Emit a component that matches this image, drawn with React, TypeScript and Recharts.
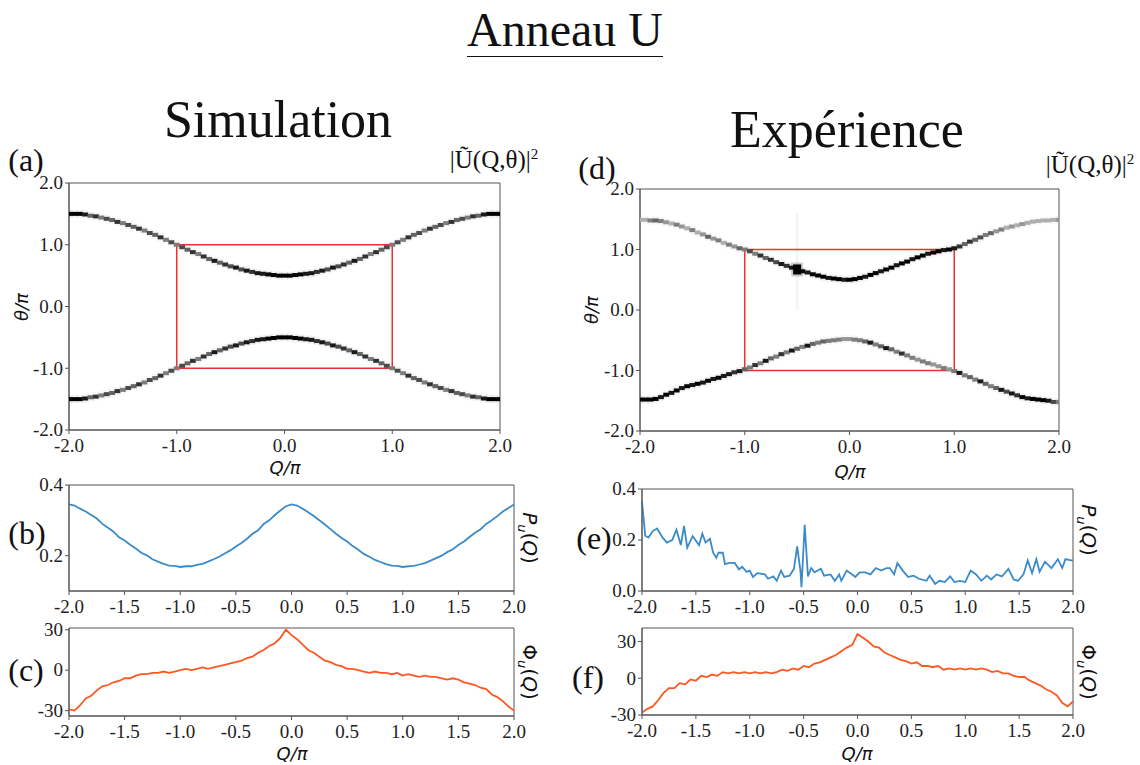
import React from 'react';
import { ScatterChart, Scatter, LineChart, Line, ComposedChart, XAxis, YAxis, ReferenceArea } from 'recharts';

// Q/pi grid shared by the simulated curves and the dispersion maps
const qGrid = [
  -2.0, -1.95, -1.9, -1.85, -1.8, -1.75, -1.7, -1.65, -1.6, -1.55, -1.5, -1.45, -1.4, -1.35, -1.3, -1.25, -1.2, -1.15, -1.1, -1.05,
  -1.0, -0.95, -0.9, -0.85, -0.8, -0.75, -0.7, -0.65, -0.6, -0.55, -0.5, -0.45, -0.4, -0.35, -0.3, -0.25, -0.2, -0.15, -0.1, -0.05,
  0.0, 0.05, 0.1, 0.15, 0.2, 0.25, 0.3, 0.35, 0.4, 0.45, 0.5, 0.55, 0.6, 0.65, 0.7, 0.75, 0.8, 0.85, 0.9, 0.95,
  1.0, 1.05, 1.1, 1.15, 1.2, 1.25, 1.3, 1.35, 1.4, 1.45, 1.5, 1.55, 1.6, 1.65, 1.7, 1.75, 1.8, 1.85, 1.9, 1.95, 2.0,
];

// (a) simulation: theta/pi of the two bands
const simUpper = [
  1.5, 1.5, 1.5, 1.49, 1.47, 1.46, 1.44, 1.42, 1.4, 1.37, 1.35, 1.32, 1.29, 1.26, 1.23, 1.19, 1.16, 1.12, 1.08, 1.04,
  1.0, 0.96, 0.92, 0.88, 0.85, 0.81, 0.77, 0.74, 0.71, 0.68, 0.65, 0.63, 0.6, 0.58, 0.56, 0.54, 0.53, 0.52, 0.51, 0.5,
  0.5, 0.5, 0.51, 0.52, 0.53, 0.54, 0.56, 0.58, 0.6, 0.63, 0.65, 0.68, 0.71, 0.74, 0.77, 0.81, 0.85, 0.88, 0.92, 0.96,
  1.0, 1.04, 1.08, 1.12, 1.16, 1.19, 1.23, 1.26, 1.29, 1.32, 1.35, 1.37, 1.4, 1.42, 1.44, 1.46, 1.47, 1.49, 1.5, 1.5, 1.5,
];
const simLower = [
  -1.5, -1.5, -1.5, -1.49, -1.47, -1.46, -1.44, -1.42, -1.4, -1.37, -1.35, -1.32, -1.29, -1.26, -1.23, -1.19, -1.16, -1.12, -1.08, -1.04,
  -1.0, -0.96, -0.92, -0.88, -0.85, -0.81, -0.77, -0.74, -0.71, -0.68, -0.65, -0.63, -0.6, -0.58, -0.56, -0.54, -0.53, -0.52, -0.51, -0.5,
  -0.5, -0.5, -0.51, -0.52, -0.53, -0.54, -0.56, -0.58, -0.6, -0.63, -0.65, -0.68, -0.71, -0.74, -0.77, -0.81, -0.85, -0.88, -0.92, -0.96,
  -1.0, -1.04, -1.08, -1.12, -1.16, -1.19, -1.23, -1.26, -1.29, -1.32, -1.35, -1.37, -1.4, -1.42, -1.44, -1.46, -1.47, -1.49, -1.5, -1.5, -1.5,
];
// |U|^2 read along the simulated bands
const simLevel = [
  1, 1, 1, 0.9,
  0.6, 0.8, 0.5, 0.7, 0.6, 0.8, 0.5, 0.7, 0.6, 0.8, 0.5, 0.7, 0.6, 0.8, 0.5, 0.7,
  0.5, 0.7, 0.6, 0.8, 0.5, 0.8, 0.6, 0.9, 0.6, 0.8, 0.7, 0.9, 0.7, 0.9, 0.8, 0.9,
  0.9, 1, 1, 1, 1, 1, 1, 1, 0.9,
  0.9, 0.8, 0.9, 0.7, 0.9, 0.7, 0.8, 0.6, 0.9, 0.6, 0.8, 0.5, 0.8, 0.6, 0.7, 0.5,
  0.7, 0.5, 0.8, 0.6, 0.7, 0.5, 0.8, 0.6, 0.7, 0.5, 0.8, 0.6, 0.7, 0.5, 0.8, 0.6,
  0.9, 1, 1, 1,
];

// (d) experiment
const expUpper = [
  1.49, 1.49, 1.48, 1.48, 1.47, 1.45, 1.43, 1.41, 1.38, 1.35, 1.32, 1.28, 1.25, 1.21, 1.18, 1.15, 1.11, 1.08, 1.05, 1.02,
  1.0, 0.97, 0.93, 0.9, 0.86, 0.83, 0.79, 0.76, 0.73, 0.7, 0.67, 0.64, 0.62, 0.59, 0.57, 0.55, 0.53, 0.52, 0.51, 0.5,
  0.5, 0.51, 0.53, 0.55, 0.58, 0.61, 0.64, 0.67, 0.7, 0.74, 0.77, 0.8, 0.84, 0.87, 0.9, 0.93, 0.95, 0.97, 0.99, 1.0,
  1.02, 1.05, 1.09, 1.13, 1.16, 1.2, 1.24, 1.27, 1.3, 1.33, 1.36, 1.38, 1.4, 1.42, 1.44, 1.46, 1.47, 1.48, 1.48, 1.49, 1.49,
];
const expUpperLevel = [
  0.3, 0.3, 0.5, 0.6, 0.5, 0.4, 0.3, 0.5, 0.4, 0.3, 0.5, 0.3, 0.4, 0.6, 0.4, 0.5, 0.3, 0.5, 0.4, 0.6,
  0.5, 0.7, 0.5, 0.8, 0.6, 0.8, 0.7, 0.9, 0.8, 0.9,
  1,
  1, 0.9, 1, 1, 1, 0.9, 1, 1, 0.9, 1, 1, 1, 0.9, 1,
  1, 0.9, 1, 1, 0.9, 1, 1, 0.9, 1, 1, 0.9, 1, 1, 0.9, 1, 0.9,
  0.8, 0.6, 0.8, 0.6, 0.7, 0.5, 0.6, 0.4, 0.5, 0.3, 0.4, 0.3, 0.4, 0.3, 0.3, 0.3, 0.3, 0.3, 0.3, 0.4,
];
const expLower = [
  -1.48, -1.48, -1.48, -1.47, -1.44, -1.4, -1.37, -1.33, -1.29, -1.26, -1.24, -1.22, -1.2, -1.17, -1.14, -1.12, -1.09, -1.06, -1.03, -1.01,
  -0.98, -0.95, -0.91, -0.88, -0.84, -0.8, -0.77, -0.73, -0.7, -0.67, -0.64, -0.61, -0.59, -0.56, -0.54, -0.52, -0.51, -0.5, -0.49, -0.48,
  -0.48, -0.49, -0.5, -0.52, -0.54, -0.57, -0.6, -0.63, -0.65, -0.69, -0.72, -0.75, -0.79, -0.82, -0.85, -0.88, -0.9, -0.93, -0.96, -0.98,
  -1.01, -1.04, -1.08, -1.11, -1.15, -1.18, -1.22, -1.26, -1.29, -1.32, -1.35, -1.38, -1.41, -1.44, -1.46, -1.47, -1.48, -1.49, -1.5, -1.52, -1.52,
];
const expLowerLevel = [
  1, 1, 1, 1, 0.9, 1, 0.9, 1, 0.9, 1, 0.9, 1, 0.9, 1, 0.9, 1, 0.9, 0.9, 0.8, 0.9,
  0.6, 0.5, 0.8, 0.5, 0.9, 0.6, 0.5, 0.8, 0.5, 0.9, 0.6, 0.5, 0.9, 0.6, 0.5, 0.6, 0.5, 0.5, 0.5, 0.4,
  0.4, 0.5, 0.5, 0.6, 0.9, 0.5, 0.6, 0.9, 0.6, 0.5, 0.8, 0.5, 0.5, 0.4, 0.5, 0.5, 0.4, 0.4, 0.5, 0.4,
  0.5, 0.9, 0.5, 0.6, 0.5, 0.9, 0.6, 0.5, 0.6, 0.9, 0.7, 0.9, 0.8, 1, 0.9, 1, 1, 1, 0.9, 0.7, 0.5,
];
// bright spot of the experiment and its streak
const spotQ = [-0.5];
const spotTheta = [0.67];

// (b) simulated P_u(Q)
const simP = [
  0.345, 0.342, 0.333, 0.325, 0.315, 0.305, 0.29, 0.279, 0.268, 0.252, 0.243, 0.231, 0.22, 0.208, 0.201, 0.19, 0.183, 0.177, 0.172, 0.171,
  0.168, 0.17, 0.17, 0.174, 0.177, 0.183, 0.19, 0.197, 0.206, 0.215, 0.226, 0.236, 0.248, 0.262, 0.272, 0.29, 0.3, 0.315, 0.328, 0.34,
  0.345, 0.342, 0.333, 0.323, 0.312, 0.3, 0.288, 0.275, 0.262, 0.25, 0.24, 0.227, 0.217, 0.205, 0.197, 0.188, 0.182, 0.176, 0.172, 0.171,
  0.168, 0.17, 0.171, 0.175, 0.179, 0.186, 0.193, 0.2, 0.21, 0.218, 0.23, 0.24, 0.253, 0.265, 0.275, 0.29, 0.3, 0.312, 0.325, 0.335, 0.345,
];

// (c) simulated Phi_u(Q)
const simPhi = [
  -29, -30, -26, -21, -19, -15, -12, -11, -9, -8, -6, -6, -4, -3, -3, -2, -2, -1, -2, -1,
  0, 1, 0, 1, 2, 1, 2, 3, 4, 5, 6, 7, 9, 10, 13, 15, 18, 20, 24, 30,
  26, 23, 19, 15, 13, 10, 7, 6, 4, 3, 1, 1, 0, -1, -2, -1, -2, -2, -3, -2,
  -4, -3, -4, -5, -4, -5, -5, -6, -7, -6, -7, -9, -10, -11, -13, -14, -18, -20, -23, -27, -30,
];

// (e) measured P_u(Q)
const qExpP = [
  -2.0, -1.97, -1.94, -1.9, -1.86, -1.81, -1.77, -1.72, -1.68, -1.64, -1.61, -1.58, -1.53, -1.47, -1.44, -1.41, -1.37, -1.34, -1.31, -1.29,
  -1.25, -1.23, -1.19, -1.14, -1.1, -1.07, -1.03, -1.0, -0.97, -0.93, -0.86, -0.83, -0.78, -0.75, -0.71, -0.68, -0.63, -0.59, -0.56, -0.53,
  -0.52, -0.49, -0.46, -0.43, -0.4, -0.34, -0.31, -0.25, -0.21, -0.17, -0.15, -0.1, -0.05, -0.02, 0.02, 0.07, 0.12, 0.17, 0.22, 0.27,
  0.3, 0.34, 0.37, 0.42, 0.47, 0.52, 0.57, 0.64, 0.67, 0.72, 0.76, 0.81, 0.86, 0.9, 0.95, 1.0, 1.05, 1.1, 1.15, 1.2,
  1.24, 1.29, 1.34, 1.4, 1.45, 1.49, 1.54, 1.58, 1.62, 1.66, 1.69, 1.74, 1.8, 1.86, 1.9, 1.93, 1.98, 2.0,
];
const expP = [
  0.35, 0.217, 0.21, 0.235, 0.245, 0.21, 0.19, 0.2, 0.24, 0.18, 0.255, 0.17, 0.215, 0.18, 0.225, 0.19, 0.205, 0.15, 0.13, 0.15,
  0.15, 0.105, 0.11, 0.11, 0.085, 0.095, 0.075, 0.08, 0.055, 0.07, 0.065, 0.048, 0.057, 0.04, 0.08, 0.055, 0.06, 0.087, 0.175, 0.08,
  0.015, 0.26, 0.057, 0.09, 0.073, 0.087, 0.06, 0.065, 0.04, 0.065, 0.04, 0.08, 0.065, 0.055, 0.073, 0.073, 0.065, 0.09, 0.08, 0.09,
  0.09, 0.065, 0.11, 0.08, 0.055, 0.06, 0.048, 0.04, 0.06, 0.028, 0.04, 0.035, 0.057, 0.035, 0.04, 0.035, 0.08, 0.065, 0.04, 0.06,
  0.045, 0.065, 0.057, 0.087, 0.045, 0.04, 0.065, 0.12, 0.07, 0.125, 0.075, 0.115, 0.09, 0.125, 0.09, 0.125, 0.12, 0.12,
];

// (f) measured Phi_u(Q)
const expPhi = [
  -28, -25, -23, -18, -12, -8, -8, -4, -5, -1, -2, 2, 1, 3, 2, 5, 4, 5, 4, 5,
  4, 5, 4, 5, 4, 5, 7, 6, 8, 7, 10, 9, 12, 13, 15, 17, 19, 22, 25, 27,
  36, 33, 30, 26, 25, 21, 19, 17, 15, 14, 12, 13, 10, 10, 9, 10, 7, 8, 7, 8,
  7, 8, 7, 8, 7, 5, 6, 4, 4, 2, 1, 1, -2, -4, -6, -9, -11, -14, -20, -23, -19,
];

const qTicksMap = [-2, -1, 0, 1, 2];
const thetaTicks = [-2, -1, 0, 1, 2];
const qTicksLine = [-2, -1.5, -1, -0.5, 0, 0.5, 1, 1.5, 2];
const cbTicks = [0.2, 0.4, 0.6, 0.8, 1.0];

const SERIF = '"Liberation Serif", "Times New Roman", serif';
const SANS = '"DejaVu Sans", sans-serif';
const AXIS = '#555';
const PAD = 16; // room above each plot so top tick labels are not clipped
const fmt1 = (v: number) => v.toFixed(1);
const fmt0 = (v: number) => String(v);

// serif tick labels like the original figure
const tickOf = (side: 'bottom' | 'left' | 'right', fmt: (v: number) => string, size = 19) => (p: any) => {
  const dy = side === 'bottom' ? '0.85em' : '0.33em';
  const anchor = side === 'bottom' ? 'middle' : side === 'left' ? 'end' : 'start';
  return (
    <text x={p.x} y={p.y} dy={dy} textAnchor={anchor} fontFamily={SERIF} fontSize={size} fill="#222">
      {fmt(p.payload.value)}
    </text>
  );
};

const toPoints = (theta: number[], level: number[]) =>
  qGrid.map((q, i) => ({ q, t: theta[i], v: level[i] }));

const grey = (v: number) => {
  const g = Math.round(250 * (1 - v));
  return `rgb(${g},${g},${g})`;
};

// one cell of the |U|^2 map
const Pixel = (props: any) => {
  const { cx, cy, payload } = props;
  const c = grey(payload.v);
  return (
    <g>
      <rect x={cx - 3.5} y={cy - 4} width={7} height={8} fill={c} opacity={0.05} />
      <rect x={cx - 2.9} y={cy - 2} width={5.8} height={4} fill={c} />
    </g>
  );
};

const Spot = (props: any) => {
  const { cx, cy } = props;
  return (
    <g>
      <rect x={cx - 6} y={cy - 7} width={12} height={14} fill="#000" opacity={0.2} />
      <rect x={cx - 4} y={cy - 5} width={8} height={10} fill="#000" />
    </g>
  );
};

interface MapProps {
  left: number;
  top: number;
  width: number;
  height: number;
  bands: { q: number; t: number; v: number }[][];
  spots?: { q: number; t: number }[];
}

// top/height are those of the plot box's chart before the padding is added
const DispersionMap: React.FC<MapProps> = ({ left, top, width, height, bands, spots }) => (
  <div style={{ position: 'absolute', left, top: top - PAD }}>
    <ScatterChart width={width} height={height + PAD} margin={{ top: PAD, right: 20, bottom: 0, left: 0 }}>
      <XAxis
        type="number"
        dataKey="q"
        domain={[-2, 2]}
        ticks={qTicksMap}
        tick={tickOf('bottom', fmt1)}
        height={40}
        stroke={AXIS}
        tickSize={4}
        tickMargin={2}
        allowDataOverflow
      />
      <YAxis
        type="number"
        dataKey="t"
        domain={[-2, 2]}
        ticks={thetaTicks}
        tick={tickOf('left', fmt1)}
        width={69}
        stroke={AXIS}
        tickSize={4}
        tickMargin={2}
        allowDataOverflow
      />
      {spots && spots.length > 0 && (
        <ReferenceArea x1={spots[0].q - 0.015} x2={spots[0].q + 0.015} y1={0} y2={1.6} fill="#000" fillOpacity={0.04} stroke="none" />
      )}
      {bands.map((b, i) => (
        <Scatter key={i} data={b} shape={Pixel} isAnimationActive={false} />
      ))}
      {spots && <Scatter data={spots} shape={Spot} isAnimationActive={false} />}
      <ReferenceArea x1={-1} x2={1} y1={-1} y2={1} fill="none" stroke="#f03030" strokeWidth={1.5} />
      <ReferenceArea x1={-2} x2={2} y1={-2} y2={2} fill="none" stroke={AXIS} strokeWidth={1} />
    </ScatterChart>
  </div>
);

const ColorBar: React.FC<{ left: number; top: number; height: number; id: string }> = ({ left, top, height, id }) => (
  <div style={{ position: 'absolute', left, top: top - PAD }}>
    <ComposedChart width={60} height={height + PAD} data={[{ x: 0 }, { x: 1 }]} margin={{ top: PAD, right: 0, bottom: 0, left: 0 }}>
      <defs>
        <linearGradient id={id} x1="0" y1="0" x2="0" y2="1">
          <stop offset="0%" stopColor="#000" />
          <stop offset="100%" stopColor="#fafafa" />
        </linearGradient>
      </defs>
      <XAxis type="number" dataKey="x" domain={[0, 1]} hide />
      <YAxis
        orientation="right"
        type="number"
        domain={[0, 1]}
        ticks={cbTicks}
        tick={tickOf('right', fmt1, 12)}
        width={48}
        axisLine={false}
        stroke={AXIS}
        tickSize={3}
        tickMargin={2}
      />
      <ReferenceArea x1={0} x2={1} y1={0} y2={1} fill={`url(#${id})`} fillOpacity={1} stroke="#888" />
    </ComposedChart>
  </div>
);

interface ProfileProps {
  left: number;
  top: number;
  width: number;
  height: number;
  q: number[];
  values: number[];
  color: string;
  yDomain: [number, number];
  yTicks: number[];
  yFormat: (v: number) => string;
}

const Profile: React.FC<ProfileProps> = ({ left, top, width, height, q, values, color, yDomain, yTicks, yFormat }) => {
  const data = q.map((x, i) => ({ q: x, y: values[i] }));
  return (
    <div style={{ position: 'absolute', left, top: top - PAD }}>
      <LineChart width={width} height={height + PAD} data={data} margin={{ top: PAD, right: 20, bottom: 0, left: 0 }}>
        <XAxis
          type="number"
          dataKey="q"
          domain={[-2, 2]}
          ticks={qTicksLine}
          tick={tickOf('bottom', fmt1)}
          height={30}
          stroke={AXIS}
          tickSize={4}
          tickMargin={2}
          interval={0}
        />
        <YAxis
          type="number"
          domain={yDomain}
          ticks={yTicks}
          tick={tickOf('left', yFormat)}
          width={69}
          stroke={AXIS}
          tickSize={4}
          tickMargin={2}
          allowDataOverflow
        />
        <ReferenceArea x1={-2} x2={2} y1={yDomain[0]} y2={yDomain[1]} fill="none" stroke={AXIS} strokeWidth={1} />
        <Line type="linear" dataKey="y" stroke={color} strokeWidth={1.8} dot={false} isAnimationActive={false} />
      </LineChart>
    </div>
  );
};

const Text: React.FC<{ x: number; y: number; style?: React.CSSProperties; rotate?: number; children: React.ReactNode }> = ({
  x,
  y,
  style,
  rotate = 0,
  children,
}) => (
  <div
    style={{
      position: 'absolute',
      left: x,
      top: y,
      transform: `translate(-50%, -50%) rotate(${rotate}deg)`,
      whiteSpace: 'nowrap',
      lineHeight: 1,
      color: '#111',
      ...style,
    }}
  >
    {children}
  </div>
);

const big = { fontFamily: SERIF, fontSize: 52 };
const panel = { fontFamily: SERIF, fontSize: 32 };
const axisTitle = { fontFamily: SANS, fontSize: 18 };
const sideTitle = { fontFamily: SANS, fontSize: 20 };
const cbTitle = { fontFamily: SERIF, fontSize: 25 };

const PU = () => (
  <span>
    <i>P</i>
    <sub style={{ fontSize: 13 }}>
      <i>u</i>
    </sub>
    (<i>Q</i>)
  </span>
);
const PHI = () => (
  <span>
    Φ
    <sub style={{ fontSize: 13 }}>
      <i>u</i>
    </sub>
    (<i>Q</i>)
  </span>
);
const UQT = () => (
  <span>
    |Ũ(Q,θ)|<sup style={{ fontSize: 15 }}>2</sup>
  </span>
);

export default function App() {
  const simBands = [toPoints(simUpper, simLevel), toPoints(simLower, simLevel)];
  const expBands = [toPoints(expUpper, expUpperLevel), toPoints(expLower, expLowerLevel)];
  const spots = spotQ.map((q, i) => ({ q, t: spotTheta[i] }));

  return (
    <div style={{ position: 'absolute', left: 0, top: 0, width: 1140, height: 765, background: '#fff', overflow: 'hidden' }}>
      <div
        style={{
          position: 'absolute',
          left: 467,
          top: 6,
          fontFamily: SERIF,
          fontSize: 48,
          lineHeight: 1,
          borderBottom: '1.5px solid #111',
          paddingBottom: 2,
          color: '#111',
        }}
      >
        Anneau U
      </div>
      <Text x={278} y={120} style={big}>Simulation</Text>
      <Text x={847} y={130} style={big}>Expérience</Text>

      <Text x={26} y={160} style={panel}>(a)</Text>
      <Text x={597} y={168} style={panel}>(d)</Text>
      <Text x={27} y={533} style={panel}>(b)</Text>
      <Text x={594} y={538} style={panel}>(e)</Text>
      <Text x={26} y={670} style={panel}>(c)</Text>
      <Text x={588} y={677} style={panel}>(f)</Text>

      <DispersionMap left={0} top={183} width={520} height={287} bands={simBands} />
      <ColorBar left={502} top={183} height={247} id="cbA" />
      <Text x={494} y={160} style={cbTitle}><UQT /></Text>

      <DispersionMap left={571} top={189} width={508} height={282} bands={expBands} spots={spots} />
      <ColorBar left={1061} top={189} height={243} id="cbD" />
      <Text x={1090} y={165} style={cbTitle}><UQT /></Text>

      <Text x={22} y={307} rotate={-90} style={axisTitle}><i>θ/π</i></Text>
      <Text x={592} y={310} rotate={-90} style={axisTitle}><i>θ/π</i></Text>
      <Text x={285} y={468} style={axisTitle}><i>Q/π</i></Text>
      <Text x={850} y={472} style={axisTitle}><i>Q/π</i></Text>

      <Profile left={0} top={485} width={534} height={136} q={qGrid} values={simP} color="#3b8bc8" yDomain={[0.1, 0.4]} yTicks={[0.2, 0.4]} yFormat={fmt1} />
      <Profile left={0} top={628} width={534} height={118} q={qGrid} values={simPhi} color="#ff5722" yDomain={[-34, 31.3]} yTicks={[-30, 0, 30]} yFormat={fmt0} />
      <Profile left={573} top={489} width={520} height={132} q={qExpP} values={expP} color="#3b8bc8" yDomain={[0, 0.4]} yTicks={[0, 0.2, 0.4]} yFormat={fmt1} />
      <Profile left={573} top={628} width={520} height={117} q={qGrid} values={expPhi} color="#ff5722" yDomain={[-30, 41]} yTicks={[-30, 0, 30]} yFormat={fmt0} />

      <Text x={528} y={538} rotate={90} style={sideTitle}><PU /></Text>
      <Text x={1087} y={530} rotate={90} style={sideTitle}><PU /></Text>
      <Text x={528} y={672} rotate={90} style={sideTitle}><PHI /></Text>
      <Text x={1087} y={672} rotate={90} style={sideTitle}><PHI /></Text>
      <Text x={292} y={754} style={axisTitle}><i>Q/π</i></Text>
      <Text x={857} y={754} style={axisTitle}><i>Q/π</i></Text>
    </div>
  );
}
